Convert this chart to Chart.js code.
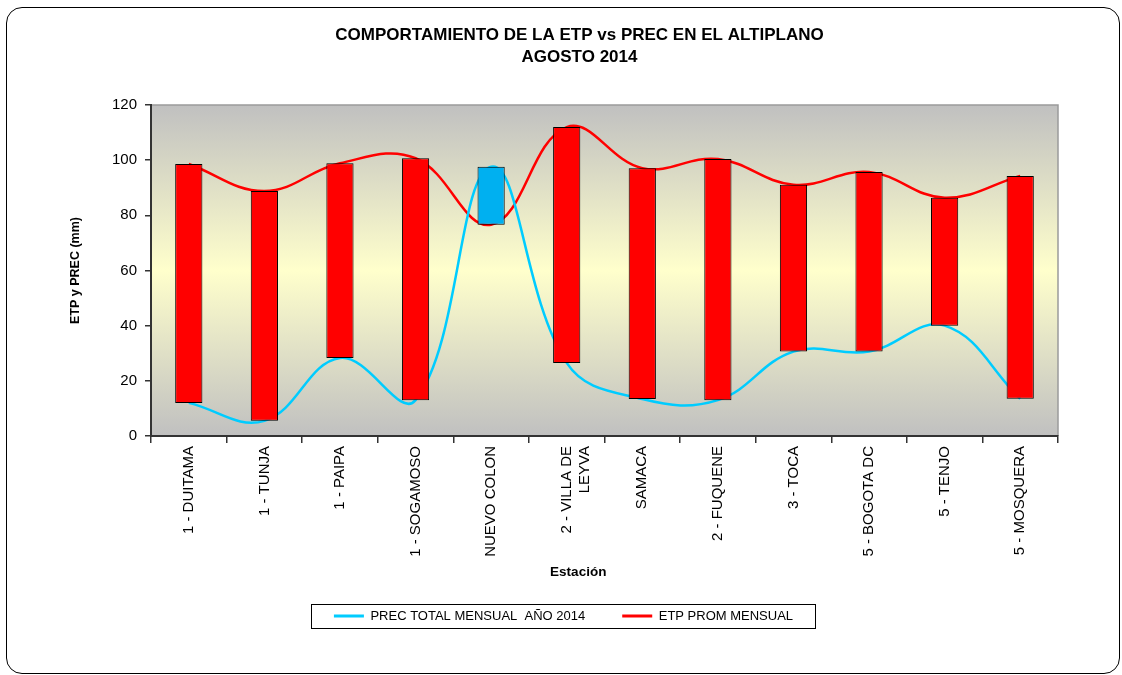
<!DOCTYPE html>
<html>
<head>
<meta charset="utf-8">
<script src="https://cdn.jsdelivr.net/npm/chart.js@4.4.1/dist/chart.umd.min.js"></script>
<style>
    html, body { margin: 0; padding: 0; background: #fff; }
    #wrap { position: relative; width: 1122px; height: 675px; }
    #frame {
        position: absolute; left: 6px; top: 7px; width: 1114px; height: 667px;
        box-sizing: border-box; border: 1.5px solid #000; border-radius: 16px;
        pointer-events: none;
    }
</style>
</head>
<body>
<div id="wrap">
    <canvas id="etpChart" width="1122" height="675"></canvas>
    <div id="frame"></div>
</div>
<script>
// Estaciones (eje X)
const estaciones = [
    "1 - DUITAMA", "1 - TUNJA", "1 - PAIPA", "1 - SOGAMOSO", "NUEVO COLON",
    ["2 - VILLA DE", "LEYVA"], "SAMACA", "2 - FUQUENE", "3 - TOCA",
    "5 - BOGOTA DC", "5 - TENJO", "5 - MOSQUERA"
];

// Precipitacion total mensual agosto 2014 (mm)
const precTotal = [12.0, 5.5, 28.3, 13.0, 97.6, 26.5, 13.4, 13.0, 30.6, 30.6, 40.0, 13.5];

// ETP promedio mensual (mm)
const etpProm = [98.6, 88.8, 98.9, 100.7, 76.6, 112.0, 97.1, 100.4, 91.1, 95.7, 86.4, 94.3];

// Eje Y
const yMin = 0;
const yMax = 120;
const yStep = 20;

const FONT = "Arial, 'Liberation Sans', sans-serif";

// Barras flotantes entre PREC y ETP (rojo si ETP > PREC, azul si no)
const barRanges = precTotal.map((p, i) => [Math.min(p, etpProm[i]), Math.max(p, etpProm[i])]);
const barColors = precTotal.map((p, i) => (etpProm[i] > p ? "#ff0000" : "#00b0f0"));

// Fondo degradado del area de trazado + borde gris
const plotBackground = {
    id: "plotBackground",
    beforeDraw(chart) {
        const { ctx, chartArea: a } = chart;
        const g = ctx.createLinearGradient(0, a.top, 0, a.bottom);
        g.addColorStop(0, "#c0c0c0");
        g.addColorStop(0.5, "#ffffcc");
        g.addColorStop(1, "#c0c0c0");
        ctx.save();
        ctx.fillStyle = g;
        ctx.fillRect(a.left, a.top, a.right - a.left, a.bottom - a.top);
        ctx.strokeStyle = "#9a9a9a";
        ctx.lineWidth = 1.5;
        ctx.beginPath();
        ctx.moveTo(a.left, a.top);
        ctx.lineTo(a.right, a.top);
        ctx.lineTo(a.right, a.bottom);
        ctx.stroke();
        ctx.restore();
    }
};

// Ajustes de posicion del titulo y la leyenda, y marco de la leyenda
const layoutTweaks = {
    id: "layoutTweaks",
    afterLayout(chart) {
        if (chart.titleBlock) {
            chart.titleBlock.left += 16;
            chart.titleBlock.right += 16;
        }
        if (chart.legend) {
            chart.legend.top -= 11.5;
            chart.legend.bottom -= 11.5;
        }
    },
    afterDraw(chart) {
        const hb = chart.legend && chart.legend.legendHitBoxes;
        if (!hb || !hb.length) return;
        const last = hb[hb.length - 1];
        const left = hb[0].left - 23;
        const right = last.left + last.width + 22;
        const mid = hb[0].top + hb[0].height / 2;
        const ctx = chart.ctx;
        ctx.save();
        ctx.strokeStyle = "#000";
        ctx.lineWidth = 1;
        ctx.strokeRect(Math.round(left) + 0.5, Math.round(mid - 12) + 0.5, Math.round(right - left), 24);
        ctx.restore();
    }
};

const ctx = document.getElementById("etpChart").getContext("2d");

new Chart(ctx, {
    type: "bar",
    data: {
        labels: estaciones,
        datasets: [
            {
                label: "ETP - PREC",
                data: barRanges,
                backgroundColor: barColors,
                borderColor: "#000",
                borderWidth: 1,
                borderSkipped: false,
                barPercentage: 0.36,
                categoryPercentage: 1,
                order: 0
            },
            {
                type: "line",
                label: "PREC TOTAL MENSUAL  AÑO 2014",
                data: precTotal,
                borderColor: "#00ccff",
                backgroundColor: "#00ccff",
                borderWidth: 2.5,
                pointRadius: 0,
                tension: 0.4,
                order: 1
            },
            {
                type: "line",
                label: "ETP PROM MENSUAL",
                data: etpProm,
                borderColor: "#ff0000",
                backgroundColor: "#ff0000",
                borderWidth: 2.5,
                pointRadius: 0,
                tension: 0.4,
                order: 1
            }
        ]
    },
    options: {
        responsive: false,
        animation: false,
        layout: { padding: { left: 69, right: 64, top: 10, bottom: 31 } },
        plugins: {
            tooltip: { enabled: false },
            title: {
                display: true,
                text: ["COMPORTAMIENTO DE LA ETP vs PREC EN EL ALTIPLANO", "AGOSTO 2014"],
                color: "#000",
                font: { family: FONT, size: 17, weight: "bold", lineHeight: 1.3 },
                padding: { top: 14, bottom: 36.8 }
            },
            legend: {
                position: "bottom",
                labels: {
                    color: "#000",
                    font: { family: FONT, size: 13 },
                    boxWidth: 30,
                    boxHeight: 3,
                    padding: 37,
                    generateLabels(chart) {
                        return Chart.defaults.plugins.legend.labels.generateLabels(chart)
                            .filter(item => item.datasetIndex > 0)
                            .map(item => Object.assign(item, { lineWidth: 0, fillStyle: item.strokeStyle }));
                    }
                }
            }
        },
        scales: {
            x: {
                afterFit(scale) { scale.height = 148; },
                border: { color: "#333", width: 2 },
                grid: { drawOnChartArea: false, drawTicks: true, tickLength: 7, color: "#333", lineWidth: 1.5 },
                ticks: {
                    autoSkip: false,
                    minRotation: 90,
                    maxRotation: 90,
                    padding: 3,
                    color: "#000",
                    font: { family: FONT, size: 15 }
                },
                title: {
                    display: true,
                    text: "Estación" + "\u00a0".repeat(14),
                    color: "#000",
                    font: { family: FONT, size: 13.5, weight: "bold", lineHeight: 1.2 },
                    padding: { top: 4, bottom: 4 }
                }
            },
            y: {
                min: yMin,
                max: yMax,
                afterFit(scale) { scale.width = 82; },
                border: { color: "#333", width: 2 },
                grid: { drawOnChartArea: false, drawTicks: true, tickLength: 6, color: "#333", lineWidth: 1.5 },
                ticks: {
                    stepSize: yStep,
                    padding: 8,
                    color: "#000",
                    font: { family: FONT, size: 15 }
                },
                title: {
                    display: true,
                    text: "ETP y PREC (mm)",
                    color: "#000",
                    font: { family: FONT, size: 12.5, weight: "bold", lineHeight: 1 },
                    padding: { top: 0, bottom: 0 }
                }
            }
        }
    },
    plugins: [plotBackground, layoutTweaks]
});
</script>
</body>
</html>
